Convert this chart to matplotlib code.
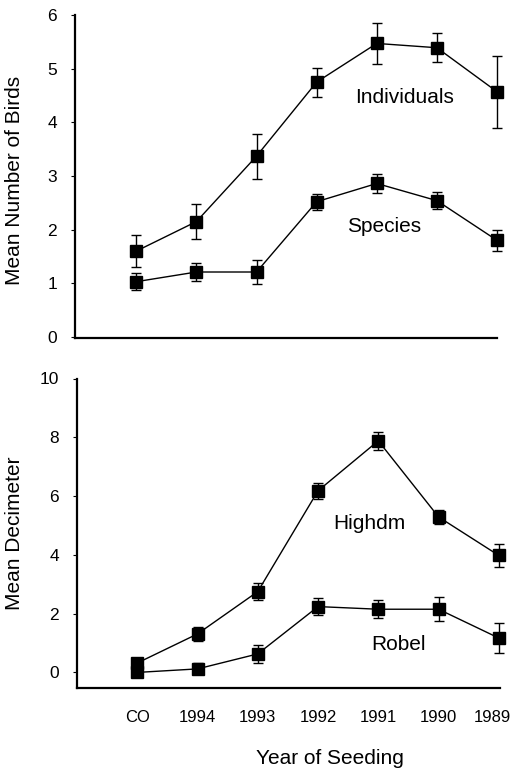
import matplotlib
matplotlib.use("Agg")
import matplotlib.pyplot as plt
import matplotlib.transforms as mtransforms
import numpy as np

plt.rcParams['font.family'] = ['Liberation Sans', 'DejaVu Sans']

years = ["CO", "1994", "1993", "1992", "1991", "1990", "1989"]

# Bird counts
individuals = [1.60, 2.15, 3.37, 4.75, 5.47, 5.39, 4.57]
individuals_err = [0.30, 0.33, 0.42, 0.27, 0.39, 0.27, 0.67]
species = [1.03, 1.21, 1.21, 2.52, 2.86, 2.54, 1.80]
species_err = [0.16, 0.17, 0.22, 0.15, 0.17, 0.16, 0.20]

# Vegetation height
highdm = [0.32, 1.31, 2.75, 6.18, 7.88, 5.29, 3.98]
highdm_err = [0.15, 0.25, 0.30, 0.28, 0.31, 0.23, 0.40]
robel = [0.00, 0.12, 0.63, 2.24, 2.15, 2.15, 1.17]
robel_err = [0.10, 0.19, 0.30, 0.30, 0.30, 0.40, 0.50]

W, H = 514, 769
fig = plt.figure(figsize=(W / 100, H / 100), dpi=100)

def px_axes(left, right, top, bottom):
    return fig.add_axes([left / W, 1 - bottom / H, (right - left) / W, (bottom - top) / H])

ax1 = px_axes(75, 497, 15, 338)
ax2 = px_axes(77, 500, 378.5, 688)

x = np.arange(len(years))
style = dict(color="black", marker="s", markersize=8.5, linewidth=1.0,
             elinewidth=1.0, capsize=3.6, capthick=1.0)

def draw(ax, y, err):
    cont = ax.errorbar(x, y, yerr=err, **style)
    for child in cont.get_children():
        child.set_clip_on(False)

draw(ax1, individuals, individuals_err)
draw(ax1, species, species_err)
draw(ax2, highdm, highdm_err)
draw(ax2, robel, robel_err)

ax1.set_xlim(-1.02, 6.0)
ax1.set_ylim(-0.02, 6)
ax1.set_yticks([0, 1, 2, 3, 4, 5, 6])
ax1.set_xticks([])

ax2.set_xlim(-1.0, 6.02)
ax2.set_ylim(-0.53, 10)
ax2.set_yticks([0, 2, 4, 6, 8, 10])
ax2.set_xticks(x)
ax2.set_xticklabels(years)

for ax in (ax1, ax2):
    for s in ("top", "right"):
        ax.spines[s].set_visible(False)
    for s in ("left", "bottom"):
        ax.spines[s].set_linewidth(1.6)
    ax.tick_params(axis="y", length=3, width=0.8, pad=10, labelsize=12.5)
    ax.tick_params(axis="x", length=0, pad=16, labelsize=12)

# keep the last year label inside the figure edge
shift = mtransforms.ScaledTranslation(-6 / 100, 0, fig.dpi_scale_trans)
last = ax2.get_xticklabels()[-1]
last.set_transform(last.get_transform() + shift)

ax1.text(4.47, 4.46, "Individuals", fontsize=15, ha="center", va="center")
ax1.text(4.12, 2.05, "Species", fontsize=15, ha="center", va="center")
ax2.text(3.86, 5.05, "Highdm", fontsize=15, ha="center", va="center")
ax2.text(4.34, 0.94, "Robel", fontsize=15, ha="center", va="center")

fig.text(15 / W, 1 - 180 / H, "Mean Number of Birds", rotation=90,
         fontsize=15, ha="center", va="center")
fig.text(15 / W, 1 - 533 / H, "Mean Decimeter", rotation=90,
         fontsize=15, ha="center", va="center")
fig.text(330 / W, 1 - 758 / H, "Year of Seeding", fontsize=15,
         ha="center", va="center")

fig.savefig("out.png", dpi=100, facecolor="white")
